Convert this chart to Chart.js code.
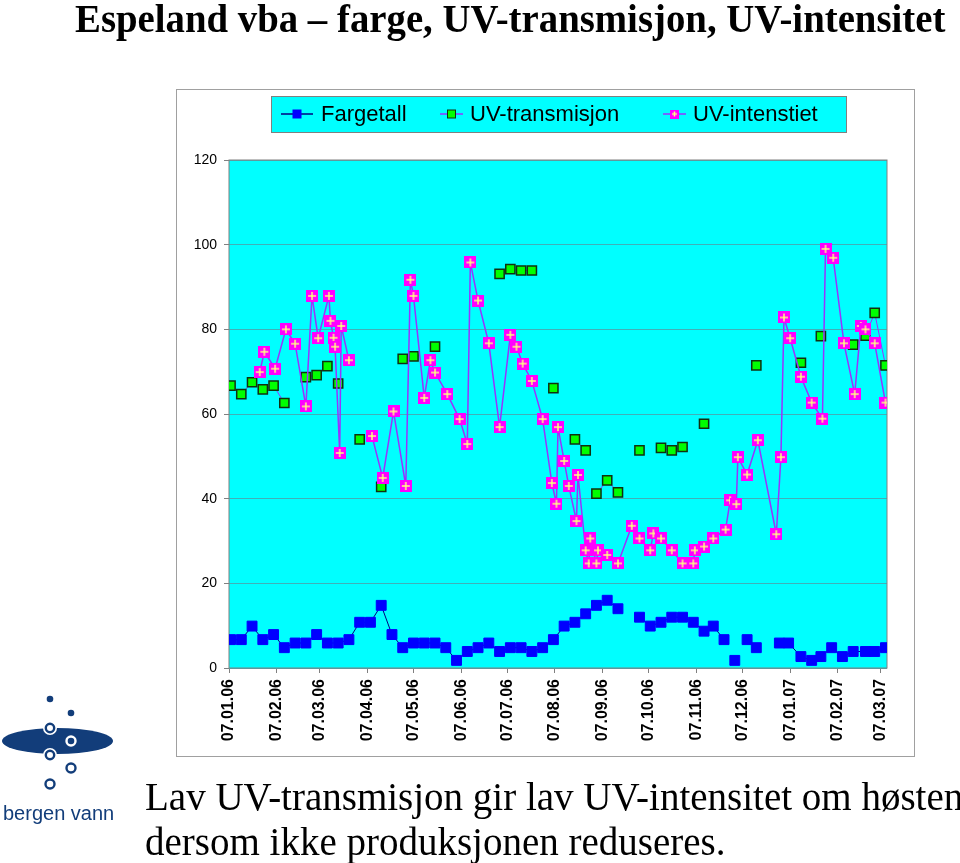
<!DOCTYPE html>
<html>
<head>
<meta charset="utf-8">
<title>Espeland vba</title>
<script src="https://cdn.jsdelivr.net/npm/chart.js@4.4.1/dist/chart.umd.min.js"></script>
<style>
  html, body { margin: 0; padding: 0; background: #fff; }
  #page { position: relative; width: 960px; height: 863px; overflow: hidden; }
  #chartBox { position: absolute; left: 0; top: 0; width: 960px; height: 863px; }
  #title {
    position: absolute; left: 75px; top: -1px;
    font: bold 40px 'Liberation Serif', 'Times New Roman', serif;
    line-height: 40px; white-space: nowrap; transform-origin: 0 0;
  }
  #caption {
    position: absolute; left: 145px; top: 774px;
    font: 39px 'Liberation Serif', 'Times New Roman', serif;
    line-height: 45px; white-space: nowrap;
  }
  #logo { position: absolute; left: 0; top: 680px; }
</style>
</head>
<body>
<div id="page">
  <div id="chartBox"><canvas id="uvChart"></canvas></div>
  <div id="title">Espeland vba – farge, UV-transmisjon, UV-intensitet</div>
  <svg id="logo" width="130" height="150" viewBox="0 680 130 150">
    <g fill="#123d7a">
      <circle cx="50" cy="699" r="3.3"/>
      <circle cx="71" cy="713" r="3.3"/>
      <ellipse cx="57.5" cy="741" rx="55.5" ry="13"/>
    </g>
    <circle cx="50" cy="728" r="7" fill="#fff"/>
    <circle cx="50" cy="728" r="4.2" fill="#fff" stroke="#123d7a" stroke-width="2.4"/>
    <circle cx="71" cy="741" r="4.5" fill="#123d7a" stroke="#fff" stroke-width="2.4"/>
    <circle cx="50" cy="755" r="7" fill="#fff"/>
    <circle cx="50" cy="755" r="4.2" fill="#fff" stroke="#123d7a" stroke-width="2.4"/>
    <circle cx="71" cy="768" r="4.5" fill="#fff" stroke="#123d7a" stroke-width="2.4"/>
    <circle cx="50" cy="784" r="4.5" fill="#fff" stroke="#123d7a" stroke-width="2.4"/>
    <text x="3" y="820" font-family="Liberation Sans, Arial, sans-serif" font-size="20" fill="#123d7a">bergen vann</text>
  </svg>
  <div id="caption">Lav UV-transmisjon gir lav UV-intensitet om høsten<br>dersom ikke produksjonen reduseres.</div>
</div>
<script>
// x axis: one tick on the 7th of every month
const tickLabels = ["07.01.06", "07.02.06", "07.03.06", "07.04.06", "07.05.06", "07.06.06", "07.07.06",
  "07.08.06", "07.09.06", "07.10.06", "07.11.06", "07.12.06", "07.01.07", "07.02.07", "07.03.07"];
const axisStart = "07.01.06";
const axisEnd = "11.03.07";
const yTicks = [0, 20, 40, 60, 80, 100, 120];

// Fargetall (weekly), null = break in the line
const fargeDates = ["08.01.06", "15.01.06", "22.01.06", "29.01.06", "05.02.06", "12.02.06", "19.02.06", "26.02.06",
  "05.03.06", "12.03.06", "19.03.06", "26.03.06", "02.04.06", "09.04.06", "16.04.06", "23.04.06", "30.04.06",
  "07.05.06", "14.05.06", "21.05.06", "28.05.06", "04.06.06", "11.06.06", "18.06.06", "25.06.06", "02.07.06",
  "09.07.06", "16.07.06", "23.07.06", "30.07.06", "06.08.06", "13.08.06", "20.08.06", "27.08.06", "03.09.06",
  "10.09.06", "17.09.06", "24.09.06", "01.10.06", "08.10.06", "15.10.06", "22.10.06", "29.10.06", "05.11.06",
  "12.11.06", "18.11.06", "25.11.06", "29.11.06", "02.12.06", "05.12.06", "10.12.06", "16.12.06", "24.12.06",
  "31.12.06", "06.01.07", "14.01.07", "21.01.07", "27.01.07", "03.02.07", "10.02.07", "17.02.07", "25.02.07",
  "03.03.07", "10.03.07"];
const fargeValues = [6.7, 6.7, 9.9, 6.7, 7.9, 4.8, 5.9, 5.9,
  7.9, 5.9, 5.9, 6.7, 10.8, 10.8, 14.8, 7.9, 4.8,
  5.9, 5.9, 5.9, 4.8, 1.8, 3.9, 4.8, 5.9, 3.9,
  4.8, 4.8, 3.9, 4.8, 6.7, 9.9, 10.8, 12.8, 14.8,
  16.0, 14.0, null, 12.0, 9.9, 10.8, 12.0, 12.0, 10.8,
  8.7, 9.9, 6.7, null, 1.8, null, 6.7, 4.8, null,
  5.9, 5.9, 2.7, 1.8, 2.7, 4.8, 2.7, 3.9, 3.9,
  3.9, 4.8];

// UV-transmisjon
const transDates = ["08.01.06", "15.01.06", "22.01.06", "26.01.06", "29.01.06", "05.02.06", "12.02.06", "19.02.06",
  "26.02.06", "05.03.06", "12.03.06", "15.03.06", "19.03.06", "26.03.06", "02.04.06", "09.04.06", "16.04.06",
  "23.04.06", "30.04.06", "07.05.06", "14.05.06", "21.05.06", "28.05.06", "02.07.06", "09.07.06", "16.07.06",
  "23.07.06", "30.07.06", "06.08.06", "13.08.06", "20.08.06", "27.08.06", "30.08.06", "03.09.06", "10.09.06",
  "17.09.06", "24.09.06", "01.10.06", "08.10.06", "15.10.06", "22.10.06", "29.10.06", "05.11.06", "12.11.06",
  "19.11.06", "16.12.06", "31.12.06", "14.01.07", "21.01.07", "27.01.07", "03.02.07", "17.02.07", "25.02.07",
  "03.03.07", "10.03.07"];
const transValues = [66.7, 64.7, 67.5, null, 65.8, 66.7, 62.6, null,
  68.7, 69.2, 71.3, null, 67.2, null, 54.0, null, 42.8,
  null, 73.0, 73.6, null, 75.9, null, 93.1, 94.2, 93.9,
  93.9, null, 66.1, null, 54.0, 51.4, null, 41.2, 44.3,
  41.5, null, 51.4, null, 52.0, 51.4, 52.2, null, 57.7,
  null, 71.5, null, 72.1, null, 78.4, null, 76.4, 78.5,
  83.9, 71.5];

// UV-intensitet
const intDates = ["27.01.06", "30.01.06", "06.02.06", "13.02.06", "19.02.06", "26.02.06", "02.03.06", "06.03.06",
  "13.03.06", "14.03.06", "16.03.06", "17.03.06", "20.03.06", "21.03.06", "26.03.06", "02.04.06", "10.04.06",
  "17.04.06", "24.04.06", "02.05.06", "05.05.06", "07.05.06", "14.05.06", "18.05.06", "21.05.06", "29.05.06",
  "06.06.06", "11.06.06", "13.06.06", "18.06.06", "25.06.06", "02.07.06", "09.07.06", "13.07.06", "17.07.06",
  "23.07.06", "30.07.06", "05.08.06", "08.08.06", "09.08.06", "13.08.06", "16.08.06", "21.08.06", "22.08.06",
  "27.08.06", "29.08.06", "30.08.06", "03.09.06", "04.09.06", "10.09.06", "17.09.06", "26.09.06", "01.10.06",
  "08.10.06", "10.10.06", "15.10.06", "22.10.06", "29.10.06", "05.11.06", "06.11.06", "12.11.06", "18.11.06",
  "26.11.06", "29.11.06", "03.12.06", "04.12.06", "10.12.06", "17.12.06", "29.12.06", "01.01.07", "03.01.07",
  "07.01.07", "14.01.07", "21.01.07", "28.01.07", "30.01.07", "04.02.07", "11.02.07", "18.02.07", "22.02.07",
  "25.02.07", "03.03.07", "10.03.07"];
const intValues = [69.9, 74.7, 70.7, 80.0, 76.6, 61.8, 87.9, 77.9,
  87.9, 82.0, 78.0, 75.9, 50.8, 80.8, 72.7, null, 54.8,
  44.9, 60.6, 43.0, 91.7, 87.9, 63.8, 72.7, 69.8, 64.7,
  58.8, 52.9, 95.8, 86.8, 76.7, 56.9, 78.7, 75.9, 71.9,
  67.8, 58.8, 43.7, 38.8, 56.9, 48.9, 43.0, 34.7, 45.6,
  27.8, 24.7, 30.6, 24.7, 27.8, 26.7, 24.7, 33.6, 30.6,
  27.8, 31.8, 30.6, 27.8, 24.7, 24.7, 27.8, 28.7, 30.6,
  32.7, 39.6, 38.7, 49.8, 45.7, 53.8, 31.6, 49.8, 82.8,
  77.9, 68.8, 62.7, 58.9, 99.0, 96.9, 76.7, 64.7, 80.8,
  80.0, 76.7, 62.7];

function toDay(s) {
  const [d, m, y] = s.split(".").map(Number);
  return Date.UTC(2000 + y, m - 1, d) / 86400000;
}

function toPoints(dates, values) {
  return dates.map((d, i) => ({ x: toDay(d), y: values[i] }));
}

// magenta square with a yellow cross
function plusMarker(size) {
  const c = document.createElement("canvas");
  c.width = size;
  c.height = size;
  const g = c.getContext("2d");
  g.fillStyle = "#ff00ff";
  g.fillRect(0, 0, size, size);
  g.strokeStyle = "#ffff80";
  g.lineWidth = 1.5;
  const m = size / 2;
  g.beginPath();
  g.moveTo(2, m); g.lineTo(size - 2, m);
  g.moveTo(m, 2); g.lineTo(m, size - 2);
  g.stroke();
  return c;
}

const frame = {
  id: "frame",
  beforeDraw(chart) {
    const { ctx, chartArea: a } = chart;
    ctx.save();
    ctx.fillStyle = "#ffffff";
    ctx.fillRect(0, 0, chart.width, chart.height);
    ctx.strokeStyle = "#a0a0a0";
    ctx.lineWidth = 1;
    ctx.strokeRect(176.5, 89.5, 738, 667);
    ctx.fillStyle = "#00ffff";
    ctx.fillRect(a.left, a.top, a.right - a.left, a.bottom - a.top);
    ctx.restore();
  },
  beforeDatasetsDraw(chart) {
    const { ctx, chartArea: a } = chart;
    ctx.save();
    ctx.strokeStyle = "#808080";
    ctx.lineWidth = 1;
    ctx.strokeRect(a.left, a.top, a.right - a.left, a.bottom - a.top);
    ctx.restore();
  },
};

const legendBox = {
  id: "legendBox",
  afterDraw(chart) {
    const ctx = chart.ctx;
    const y = 114;
    ctx.save();
    ctx.fillStyle = "#00ffff";
    ctx.fillRect(271, 96, 575, 36);
    ctx.strokeStyle = "#808080";
    ctx.lineWidth = 1;
    ctx.strokeRect(271.5, 96.5, 575, 36);

    const items = [
      { ds: 2, x0: 281, x1: 313, tx: 321 },
      { ds: 1, x0: 440, x1: 463, tx: 470 },
      { ds: 0, x0: 663, x1: 686, tx: 693 },
    ];
    items.forEach((it) => {
      const ds = chart.data.datasets[it.ds];
      const cx = (it.x0 + it.x1) / 2;
      ctx.strokeStyle = ds.borderColor;
      ctx.lineWidth = 1.5;
      ctx.beginPath();
      ctx.moveTo(it.x0, y);
      ctx.lineTo(it.x1, y);
      ctx.stroke();
      if (ds.pointStyle === "rect") {
        ctx.fillStyle = ds.pointBackgroundColor;
        ctx.fillRect(cx - 4, y - 4, 8, 8);
        ctx.strokeStyle = ds.pointBorderColor;
        ctx.lineWidth = 1;
        ctx.strokeRect(cx - 4, y - 4, 8, 8);
      } else {
        ctx.drawImage(plusMarker(9), cx - 4.5, y - 4.5);
      }
      ctx.fillStyle = "#000";
      ctx.font = "22px 'Liberation Sans', Arial, sans-serif";
      ctx.textBaseline = "middle";
      ctx.fillText(ds.label, it.tx, y + 1);
    });
    ctx.restore();
  },
};

Chart.defaults.font.family = "'Liberation Sans', Arial, sans-serif";

new Chart(document.getElementById("uvChart"), {
  type: "line",
  data: {
    datasets: [
      {
        label: "UV-intenstiet",
        data: toPoints(intDates, intValues),
        borderColor: "#9933ff",
        borderWidth: 1.5,
        pointStyle: plusMarker(12),
        pointRadius: 6,
        spanGaps: false,
        order: 0,
      },
      {
        label: "UV-transmisjon",
        data: toPoints(transDates, transValues),
        borderColor: "#9933ff",
        borderWidth: 1,
        pointStyle: "rect",
        pointRadius: 6.5,
        pointBackgroundColor: "#00ff00",
        pointBorderColor: "#103010",
        pointBorderWidth: 1.5,
        spanGaps: false,
        order: 1,
      },
      {
        label: "Fargetall",
        data: toPoints(fargeDates, fargeValues),
        borderColor: "#000080",
        borderWidth: 1,
        pointStyle: "rect",
        pointRadius: 7,
        pointBackgroundColor: "#0000ff",
        pointBorderColor: "#0000ff",
        pointBorderWidth: 1,
        spanGaps: false,
        order: 2,
      },
    ],
  },
  options: {
    responsive: true,
    maintainAspectRatio: false,
    animation: false,
    events: [],
    layout: { padding: { left: 176, right: 73, top: 160, bottom: 105 } },
    plugins: { legend: { display: false }, tooltip: { enabled: false } },
    scales: {
      x: {
        type: "linear",
        min: toDay(axisStart),
        max: toDay(axisEnd),
        afterBuildTicks: (scale) => {
          scale.ticks = tickLabels.map((l) => ({ value: toDay(l) }));
        },
        afterFit: (scale) => {
          scale.height = 90;
          scale.paddingLeft = 0;
          scale.paddingRight = 0;
        },
        ticks: {
          autoSkip: false,
          minRotation: 90,
          maxRotation: 90,
          padding: 6,
          color: "#000",
          font: { size: 16, weight: "bold" },
          callback: (value, index) => tickLabels[index],
        },
        grid: { drawOnChartArea: false, tickLength: 5, color: "#808080" },
        border: { display: false },
      },
      y: {
        min: 0,
        max: 120,
        afterBuildTicks: (scale) => {
          scale.ticks = yTicks.map((v) => ({ value: v }));
        },
        afterFit: (scale) => {
          scale.width = 53;
          scale.paddingTop = 0;
          scale.paddingBottom = 0;
        },
        ticks: { padding: 7, color: "#000", font: { size: 14 } },
        grid: { color: "#40b0b8", tickColor: "#808080", tickLength: 5 },
        border: { display: false },
      },
    },
  },
  plugins: [frame, legendBox],
});

// squeeze the title to the width it has in the slide
const title = document.getElementById("title");
title.style.transform = "scaleX(" + (870 / title.offsetWidth) + ")";
</script>
</body>
</html>
